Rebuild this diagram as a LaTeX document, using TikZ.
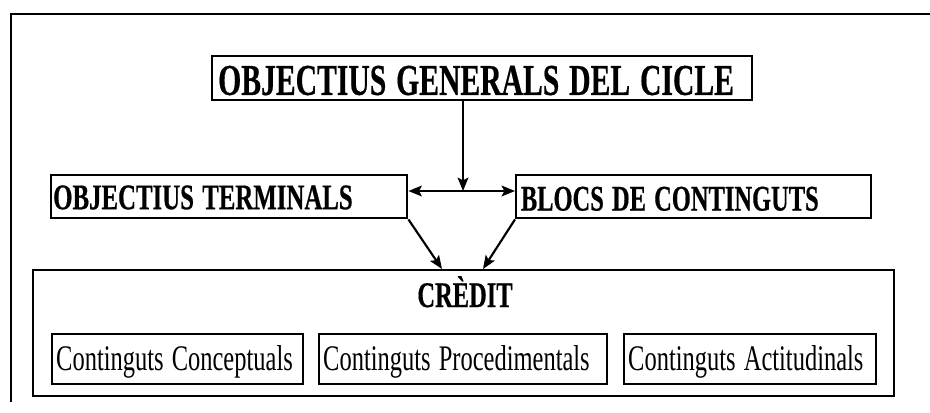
\documentclass[tikz,border=0pt]{standalone}
\usepackage{fontspec}
\setmainfont{Liberation Serif}
\newfontfamily\cfb{Liberation Serif}[FakeBold=0.6]
\newcommand\sq[2]{\scalebox{#1}[1]{#2}}
\newcommand\bfbox{\cfb\bfseries\fontsize{27}{29}\selectfont}
\newcommand\bftitle{\cfb\bfseries\fontsize{33}{35}\selectfont}
\newcommand\rmbox{\rmfamily\fontsize{27}{29}\selectfont}
\usetikzlibrary{arrows.meta}
\tikzset{
  box/.style={draw, line width=1.8pt, inner xsep=0pt, inner ysep=0pt, align=left, font=\bfbox},
  subbox/.style={draw, line width=1.8pt, inner xsep=3pt, inner ysep=0pt, align=left, text width=#1, text height=27.5pt, text depth=10pt, font=\rmbox},
  tip/.tip={Stealth[length=10pt,width=8pt,inset=2pt]},
  arr/.style={line width=1.6pt, -tip},
  darr/.style={line width=1.6pt, tip-tip},
  frame/.style={line width=1.6pt}
}
\begin{document}
\begin{tikzpicture}[x=0.75pt,y=-0.75pt]
\useasboundingbox (0,0) rectangle (930,412);
% outer frame
\coordinate (fb) at (11,402);
\coordinate (ft) at (11,14);
\coordinate (fr) at (930,14);
\draw[frame] (fb) -- (ft) -- (fr);
% title
\node[box, anchor=north west, inner xsep=4.5pt, text width=396pt, text height=29pt, text depth=4pt,
      font=\bftitle] (title) at (211,55) {\sq{0.674}{OBJECTIUS GENERALS DEL CICLE}};
% terminals and blocs
\node[box, anchor=north west, inner xsep=1.5pt, text width=264pt, text height=25.5pt, text depth=6.75pt] (ot) at (50,174) {\sq{0.69}{OBJECTIUS TERMINALS}};
\node[box, anchor=north west, inner xsep=3.5pt, text width=259pt, text height=26.5pt, text depth=5.75pt] (bc) at (515,174) {\sq{0.68}{BLOCS DE CONTINGUTS}};
% credit
\node[draw, line width=1.6pt, anchor=north west, minimum width=645.75pt, minimum height=94.5pt, inner sep=0pt] (cr) at (32,269) {};
\node[font=\bfbox, anchor=base, inner sep=0pt] (crt) at (465,307) {\sq{0.68}{CRÈDIT}};
\node[subbox=182pt, anchor=north west] (c1) at (51,333) {\sq{0.68}{Continguts Conceptuals}};
\node[subbox=210pt, anchor=north west] (c2) at (318,333) {\sq{0.68}{Continguts Procedimentals}};
\node[subbox=183pt, anchor=north west] (c3) at (623,333) {\sq{0.68}{Continguts Actitudinals}};
% connectors
\coordinate (j) at (463,191);
\coordinate (t1) at (442,269);
\coordinate (t2) at (483,269);
\draw[arr] (title.south -| j) -- (j);
\draw[darr] (j -| ot.east) -- (j -| bc.west);
\draw[arr] (ot.south east) -- (t1);
\draw[arr] (bc.south west) -- (t2);
\end{tikzpicture}
\end{document}
